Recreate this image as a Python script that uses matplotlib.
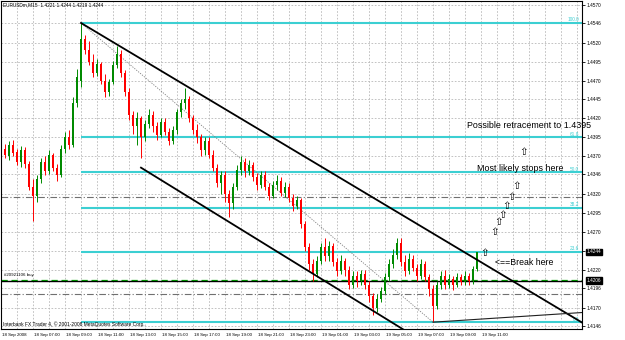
import matplotlib
matplotlib.use("Agg")
import matplotlib.pyplot as plt
import matplotlib.transforms as mtransforms
import numpy as np

plt.rcParams['font.family'] = ['Liberation Sans', 'DejaVu Sans']

# ---------------- data ----------------
opens = [1.4380,1.4370,1.4385,1.4376,1.4362,1.4378,1.4360,1.4330,1.4318,1.4340,
         1.4362,1.4350,1.4372,1.4355,1.4345,1.4380,1.4395,1.4385,1.4440,1.4470,
         1.4525,1.4510,1.4495,1.4480,1.4492,1.4470,1.4455,1.4468,1.4490,1.4505,
         1.4480,1.4455,1.4425,1.4410,1.4420,1.4395,1.4412,1.4425,1.4410,1.4398,
         1.4415,1.4402,1.4390,1.4405,1.4428,1.4440,1.4445,1.4420,1.4405,1.4395,
         1.4378,1.4390,1.4372,1.4355,1.4335,1.4345,1.4320,1.4308,1.4330,1.4352,
         1.4362,1.4350,1.4358,1.4342,1.4332,1.4345,1.4330,1.4318,1.4332,1.4338,
         1.4322,1.4330,1.4315,1.4305,1.4312,1.4280,1.4250,1.4228,1.4215,1.4232,
         1.4250,1.4238,1.4252,1.4230,1.4218,1.4232,1.4220,1.4200,1.4212,1.4205,
         1.4215,1.4200,1.4185,1.4170,1.4182,1.4192,1.4210,1.4228,1.4240,1.4255,
         1.4230,1.4218,1.4235,1.4222,1.4212,1.4228,1.4210,1.4195,1.4172,1.4200,
         1.4212,1.4200,1.4208,1.4200,1.4210,1.4204,1.4212,1.4205,1.4221]
highs = [1.4386,1.4390,1.4392,1.4380,1.4383,1.4382,1.4364,1.4340,1.4345,1.4368,
         1.4370,1.4378,1.4375,1.4360,1.4385,1.4402,1.4405,1.4448,1.4485,1.4546,
         1.4530,1.4522,1.4505,1.4498,1.4495,1.4478,1.4472,1.4496,1.4515,1.4510,
         1.4484,1.4460,1.4430,1.4428,1.4423,1.4418,1.4432,1.4430,1.4415,1.4420,
         1.4420,1.4408,1.4410,1.4432,1.4446,1.4460,1.4450,1.4425,1.4412,1.4400,
         1.4395,1.4396,1.4378,1.4360,1.4350,1.4350,1.4325,1.4335,1.4358,1.4370,
         1.4368,1.4365,1.4362,1.4348,1.4350,1.4350,1.4335,1.4338,1.4345,1.4342,
         1.4336,1.4335,1.4320,1.4318,1.4315,1.4285,1.4255,1.4235,1.4238,1.4256,
         1.4262,1.4258,1.4256,1.4236,1.4240,1.4236,1.4225,1.4218,1.4218,1.4220,
         1.4220,1.4205,1.4190,1.4188,1.4198,1.4216,1.4235,1.4248,1.4262,1.4262,
         1.4240,1.4242,1.4240,1.4228,1.4235,1.4232,1.4215,1.4200,1.4205,1.4218,
         1.4220,1.4215,1.4212,1.4216,1.4215,1.4218,1.4216,1.4225,1.4244]
lows = [1.4368,1.4365,1.4370,1.4358,1.4356,1.4355,1.4325,1.4285,1.4310,1.4335,
        1.4345,1.4346,1.4350,1.4338,1.4342,1.4375,1.4380,1.4382,1.4435,1.4462,
        1.4505,1.4490,1.4475,1.4476,1.4465,1.4448,1.4450,1.4465,1.4486,1.4475,
        1.4450,1.4418,1.4400,1.4385,1.4368,1.4390,1.4408,1.4402,1.4392,1.4395,
        1.4398,1.4385,1.4386,1.4400,1.4422,1.4432,1.4415,1.4400,1.4388,1.4370,
        1.4372,1.4368,1.4350,1.4330,1.4320,1.4310,1.4290,1.4300,1.4325,1.4345,
        1.4342,1.4345,1.4338,1.4325,1.4328,1.4325,1.4312,1.4315,1.4325,1.4318,
        1.4316,1.4310,1.4298,1.4300,1.4275,1.4245,1.4220,1.4205,1.4210,1.4228,
        1.4232,1.4232,1.4225,1.4212,1.4215,1.4212,1.4195,1.4196,1.4198,1.4200,
        1.4195,1.4178,1.4160,1.4165,1.4178,1.4188,1.4205,1.4222,1.4235,1.4225,
        1.4212,1.4215,1.4218,1.4205,1.4208,1.4205,1.4185,1.4151,1.4168,1.4195,
        1.4195,1.4196,1.4194,1.4198,1.4200,1.4200,1.4200,1.4202,1.4219]
closes = [1.4372,1.4385,1.4375,1.4362,1.4378,1.4360,1.4330,1.4318,1.4340,1.4362,
          1.4350,1.4372,1.4355,1.4345,1.4380,1.4395,1.4385,1.4440,1.4475,1.4525,
          1.4510,1.4495,1.4480,1.4492,1.4470,1.4455,1.4468,1.4490,1.4505,1.4480,
          1.4455,1.4425,1.4410,1.4420,1.4395,1.4412,1.4425,1.4410,1.4398,1.4415,
          1.4402,1.4390,1.4405,1.4428,1.4440,1.4445,1.4420,1.4405,1.4395,1.4378,
          1.4390,1.4372,1.4355,1.4335,1.4345,1.4320,1.4308,1.4330,1.4352,1.4362,
          1.4350,1.4358,1.4342,1.4332,1.4345,1.4330,1.4318,1.4332,1.4338,1.4322,
          1.4330,1.4315,1.4305,1.4312,1.4280,1.4250,1.4228,1.4215,1.4232,1.4250,
          1.4238,1.4252,1.4230,1.4218,1.4232,1.4220,1.4200,1.4212,1.4205,1.4215,
          1.4200,1.4185,1.4170,1.4182,1.4192,1.4210,1.4228,1.4240,1.4255,1.4230,
          1.4218,1.4235,1.4222,1.4212,1.4228,1.4210,1.4195,1.4172,1.4200,1.4212,
          1.4200,1.4208,1.4200,1.4210,1.4204,1.4212,1.4205,1.4221,1.4244]

y_tick_vals = [1.4570,1.4546,1.4520,1.4495,1.4470,1.4445,1.4420,1.4395,1.4370,
               1.4346,1.4320,1.4295,1.4270,1.4245,1.4220,1.4196,1.4170,1.4146]
y_tick_labels = ["1.4570","1.4546","1.4520","1.4495","1.4470","1.4445","1.4420",
                 "1.4395","1.4370","1.4346","1.4320","1.4295","1.4270","",
                 "1.4220","1.4196","1.4170","1.4146"]

x_label_bars = [-1,7,15,23,31,39,47,55,63,71,79,87,95,103,111,119]
x_tick_labels = ["18 Sep 2008","18 Sep 07:00","18 Sep 09:00","18 Sep 11:00",
                 "18 Sep 13:00","18 Sep 15:00","18 Sep 17:00","18 Sep 19:00",
                 "18 Sep 21:00","18 Sep 23:00","19 Sep 01:00","19 Sep 03:00",
                 "19 Sep 05:00","19 Sep 07:00","19 Sep 09:00","19 Sep 11:00"]
v_grid_bars = [3,7,11,15,19,23,27,31,35,39,43,47,51,55,59,63,67,71,75,79,83,87,
               91,95,99,103,107,111,115,119,123,127,131,135,139,143]

fib_names = ["0.0","23.6","38.2","50.0","61.8","100.0"]
fib_prices = [1.4151,1.4244,1.4302,1.4349,1.4395,1.4546]
fib_start_bar = 19

upper_line = ([19, 146], [1.4546, 1.4145])
lower_line = ([34, 100], [1.4355, 1.4140])
base_line = ([107, 145], [1.4151, 1.4164])
fib_diag = ([19, 107], [1.4546, 1.4151])

dashdot_levels = [1.4316, 1.4188]
order_level = 1.4207
hline_level = 1.4205

arrow_bars = [120.0, 122.5, 123.5, 124.5, 125.5, 126.75, 128.0, 129.75]
arrow_prices = [1.4242, 1.4270, 1.4283, 1.4293, 1.4304, 1.4316, 1.4331, 1.4376]

# ---------------- figure ----------------
W, H = 625, 340
fig = plt.figure(figsize=(W/100, H/100), dpi=100)
fig.patch.set_facecolor('white')
ax = fig.add_axes([1/W, 11/H, 581/W, 328/H])
ax.set_facecolor('white')
ax.set_xlim(-1, 144.25)
ax.set_ylim(1.4142, 1.4575)

grid_kw = dict(color='#b8b8b8', lw=0.6, ls=(0, (2, 2)), zorder=0)
for v in y_tick_vals:
    ax.axhline(v, **grid_kw)
for b in v_grid_bars:
    ax.axvline(b, **grid_kw)

# horizontal lines
for lv in dashdot_levels:
    ax.axhline(lv, color='#707070', lw=0.8, ls=(0, (6, 2, 1, 2)), zorder=1)
ax.axhline(order_level, color='#00b000', lw=0.9, ls=(0, (5, 3)), zorder=1)
ax.axhline(hline_level, color='black', lw=1.0, zorder=1)
ax.text(-0.3, order_level + 0.0004, "#20921106 buy", fontsize=3.2, color='black',
        va='bottom', ha='left', zorder=5)

# fibonacci
fib_color = '#3ccfd2'
for name, p in zip(fib_names, fib_prices):
    ax.plot([fib_start_bar, 144.25], [p, p], color=fib_color, lw=1.5, zorder=2,
            solid_capstyle='butt')
    ax.text(143.5, p + 0.00008, name, color=fib_color, fontsize=3.4,
            ha='right', va='bottom', zorder=3)
ax.plot(fib_diag[0], fib_diag[1], color='#808080', lw=0.6, ls=(0, (1.5, 1.5)), zorder=3)

# candles
idx = np.arange(len(closes))
o = np.array(opens); c = np.array(closes)
hh = np.array(highs); ll = np.array(lows)
cols = np.where(c >= o, '#008a00', '#ff0000')
ax.vlines(idx, ll, hh, colors=cols, lw=0.7, zorder=4)
body = np.where(np.abs(c - o) < 0.00005, 0.00005, c - o)
ax.bar(idx, body, bottom=o, width=0.62, color=cols, lw=0, zorder=5)

# trendlines
for ln in (upper_line, lower_line):
    ax.plot(ln[0], ln[1], color='black', lw=1.3, zorder=6)
ax.plot(base_line[0], base_line[1], color='#202020', lw=0.8, zorder=6)

# annotations
for b, p in zip(arrow_bars, arrow_prices):
    ax.text(b, p, "\u21e7", fontsize=7.5, ha='center', va='center', color='black',
            family=['DejaVu Sans'], zorder=7)
ax.text(115.5, 1.4411, "Possible retracement to 1.4395", fontsize=6.4,
        ha='left', va='center', zorder=7)
ax.text(117.9, 1.4354, "Most likely stops here", fontsize=6.4,
        ha='left', va='center', zorder=7)
ax.text(122.5, 1.4230, "<==Break here", fontsize=6.3,
        ha='left', va='center', zorder=7)

# title and copyright
ax.text(0.003, 0.995, "EURUSDm,M15  1.4221 1.4244 1.4219 1.4244", transform=ax.transAxes,
        fontsize=3.4, ha='left', va='top', zorder=8)
ax.text(0.003, 0.005, "Interbank FX Trader 4, \u00a9 2001-2008 MetaQuotes Software Corp.",
        transform=ax.transAxes, fontsize=3.5, ha='left', va='bottom', zorder=8)

# axes
ax.yaxis.tick_right()
ax.set_yticks(y_tick_vals)
ax.set_yticklabels(y_tick_labels)
ax.tick_params(axis='y', labelsize=3.4, length=2, width=0.6, pad=1.5, colors='black')
ax.set_xticks([])
xtrans = mtransforms.blended_transform_factory(ax.transData, ax.transAxes)
for b, lab in zip(x_label_bars, x_tick_labels):
    ax.text(b + 0.2, -0.012, lab, transform=xtrans, fontsize=3.2, ha='left', va='top',
            clip_on=False)
for s in ax.spines.values():
    s.set_color('black'); s.set_linewidth(0.8)

# price boxes on the right axis
trans = mtransforms.blended_transform_factory(ax.transAxes, ax.transData)
for p, lab in ((1.4244, "1.4244"), (1.4206, "1.4206")):
    ax.text(1.008, p, lab, transform=trans, fontsize=3.4, color='white', ha='left',
            va='center', clip_on=False, zorder=10,
            bbox=dict(boxstyle='square,pad=0.15', fc='black', ec='black'))

fig.savefig("out.png", dpi=100, facecolor='white')
